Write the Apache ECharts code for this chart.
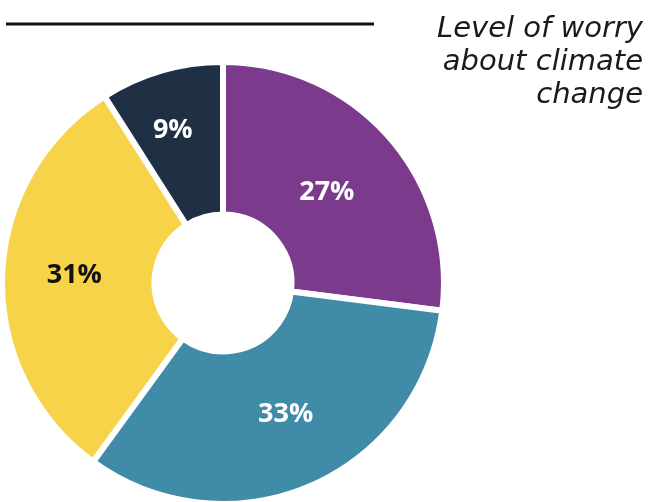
<!DOCTYPE html>
<html>
<head>
<meta charset="utf-8">
<script src="https://cdn.jsdelivr.net/npm/echarts@6/dist/echarts.min.js"></script>
<style>
html,body{margin:0;padding:0;background:#fff;}
#chart{width:651px;height:502px;}
</style>
</head>
<body>
<div id="chart"></div>
<script>
const categories = ['Segment 1', 'Segment 2', 'Segment 3', 'Segment 4'];
const values = [27, 33, 31, 9];
const sliceColors = ['#7C3A8D', '#408BA8', '#F6D348', '#1F3044'];
const labelColors = ['#ffffff', '#ffffff', '#111111', '#ffffff'];
const titleText = 'Level of worry\nabout climate\nchange';

const chart = echarts.init(document.getElementById('chart'), null, {renderer: 'canvas'});
chart.setOption({
  animation: false,
  backgroundColor: '#ffffff',
  graphic: [{
    type: 'line',
    shape: {x1: 6, y1: 24, x2: 374, y2: 24},
    style: {stroke: '#111', lineWidth: 3}
  }, {
    type: 'text',
    x: 643,
    y: 13,
    style: {
      text: titleText,
      align: 'right',
      verticalAlign: 'top',
      fontFamily: 'DejaVu Sans',
      fontStyle: 'italic',
      fontWeight: 200,
      fontSize: 29,
      lineHeight: 33,
      fill: '#1a1a1a'
    }
  }],
  series: [{
    type: 'pie',
    center: [223, 283],
    radius: [68.5, 221],
    startAngle: 90,
    clockwise: true,
    silent: true,
    avoidLabelOverlap: false,
    itemStyle: {borderColor: '#ffffff', borderWidth: 6},
    label: {
      show: true,
      position: 'inside',
      formatter: '{c}%',
      fontFamily: 'Open Sans',
      fontWeight: 'bold',
      fontSize: 27
    },
    labelLine: {show: false},
    labelLayout: function (p) {
      const shifts = [[-7, 7], [4, -4], [-1, -3], [-9, -11]];
      const s = shifts[p.dataIndex];
      return {dx: s[0], dy: s[1]};
    },
    data: categories.map((name, i) => ({
      name: name,
      value: values[i],
      itemStyle: {color: sliceColors[i]},
      label: {color: labelColors[i]}
    }))
  }]
});
</script>
</body>
</html>
